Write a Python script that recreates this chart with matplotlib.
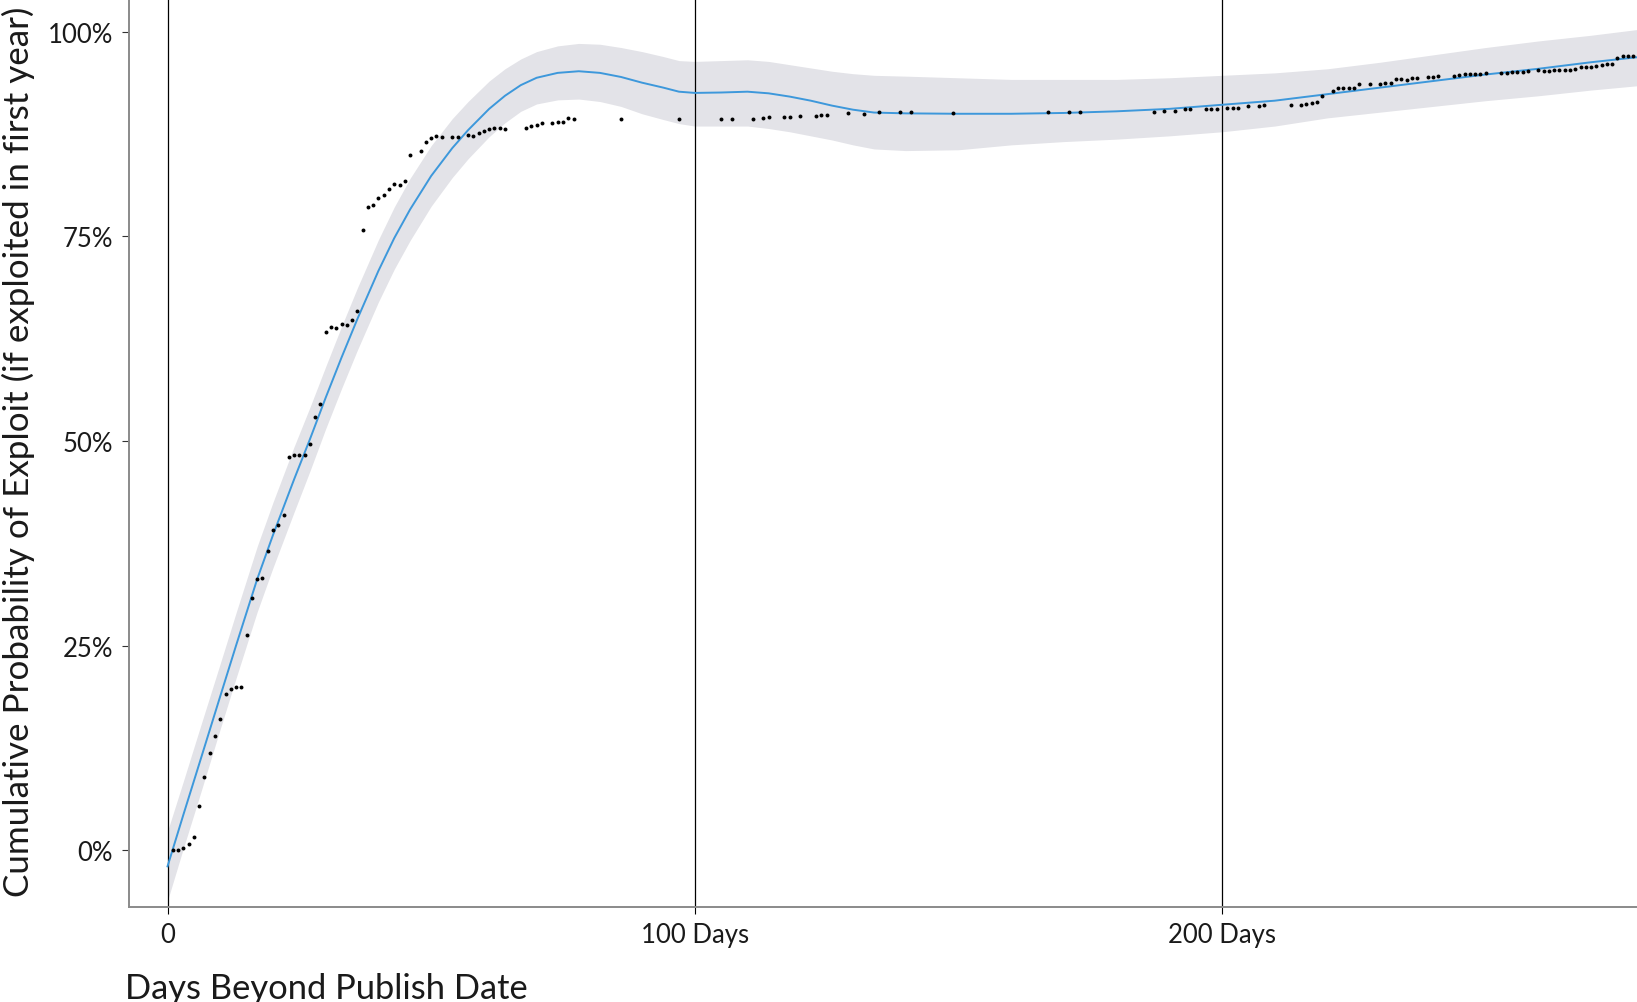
import matplotlib
matplotlib.use("Agg")
import matplotlib.pyplot as plt
import numpy as np

plt.rcParams['font.family'] = ['Lato', 'DejaVu Sans']

# observed cumulative probability (percent) by day
days = [1, 2, 3, 4, 5, 6, 7, 8, 9, 10, 11, 12, 13, 14, 15, 16, 17, 18, 19, 20,
        21, 22, 23, 24, 25, 26, 27, 28, 29, 30, 31, 32, 33, 34, 35, 36, 37, 38, 39, 40,
        41, 42, 43, 44, 45, 46, 48, 49, 50, 51, 52, 54, 55, 57, 58, 59, 60, 61, 62, 63,
        64, 68, 69, 70, 71, 73, 74, 75, 76, 77, 86, 97, 105, 107, 111, 113, 114, 117, 118, 120,
        123, 124, 125, 129, 132, 135, 139, 141, 149, 167, 171, 173, 187, 189, 191, 193, 194, 197, 198, 199,
        201, 202, 203, 205, 207, 208, 213, 215, 216, 217, 218, 219, 221, 222, 223, 224, 225, 226, 228, 230,
        231, 232, 233, 234, 235, 236, 237, 239, 240, 241, 244, 245, 246, 247, 248, 249, 250, 253, 254, 255,
        256, 257, 258, 260, 261, 262, 263, 264, 265, 266, 267, 268, 269, 270, 271, 272, 273, 274, 275, 276,
        277, 278]
prob = [0.0, 0.0, 0.24, 0.77, 1.55, 5.38, 8.92, 11.82, 13.9, 15.98, 19.07, 19.72, 19.93, 19.93, 26.25, 30.8, 33.17, 33.29, 36.5, 39.08,
        39.73, 40.95, 48.04, 48.25, 48.25, 48.25, 49.6, 52.9, 54.5, 63.3, 63.94, 63.85, 64.27, 64.22, 64.76, 65.86, 75.79, 78.64, 78.89, 79.7,
        80.04, 80.84, 81.42, 81.3, 81.78, 85.0, 85.4, 86.5, 87.0, 87.29, 87.16, 87.16, 87.16, 87.37, 87.32, 87.69, 87.94, 88.1, 88.22, 88.22,
        88.18, 88.22, 88.5, 88.66, 88.84, 88.84, 89.04, 89.04, 89.43, 89.41, 89.41, 89.41, 89.41, 89.41, 89.41, 89.49, 89.61, 89.61, 89.65, 89.77,
        89.73, 89.82, 89.82, 90.06, 90.01, 90.26, 90.26, 90.26, 90.06, 90.26, 90.18, 90.18, 90.26, 90.38, 90.38, 90.55, 90.55, 90.59, 90.59, 90.59,
        90.71, 90.71, 90.71, 90.92, 90.92, 91.11, 91.11, 91.11, 91.2, 91.28, 91.48, 92.14, 92.8, 93.1, 93.19, 93.19, 93.19, 93.6, 93.6, 93.6,
        93.8, 93.8, 94.29, 94.25, 94.13, 94.38, 94.38, 94.46, 94.46, 94.66, 94.66, 94.78, 94.83, 94.83, 94.91, 94.91, 95.03, 94.95, 94.95, 95.15,
        95.15, 95.15, 95.23, 95.31, 95.23, 95.23, 95.31, 95.39, 95.39, 95.39, 95.51, 95.72, 95.76, 95.76, 95.88, 95.97, 96.05, 96.13, 96.86, 97.03,
        97.1, 97.1]

# smoothed trend with confidence band (percent)
fit_days = [0, 3, 6, 10, 13, 17, 20, 24, 27, 30, 33, 36, 40, 43, 46, 50, 54, 57, 61, 64,
            67, 70, 74, 78, 82, 86, 90, 94, 97, 100, 105, 110, 114, 118, 122, 126, 130, 134, 140, 150,
            160, 170, 180, 190, 200, 210, 220, 230, 240, 250, 260, 270, 280]
fit_mid = [-2.0, 4.3, 10.5, 18.8, 25.0, 33.1, 38.5, 45.3, 50.2, 55.3, 60.2, 64.9, 70.8, 74.8, 78.3, 82.4, 85.8, 88.0, 90.6, 92.2,
           93.5, 94.4, 95.0, 95.2, 95.0, 94.5, 93.8, 93.2, 92.7, 92.55, 92.6, 92.7, 92.5, 92.1, 91.6, 91.0, 90.5, 90.15, 90.05, 90.0,
           90.0, 90.1, 90.3, 90.6, 91.1, 91.6, 92.4, 93.2, 94.0, 94.8, 95.5, 96.3, 97.0]
fit_low = [-6.2, 0.2, 6.4, 14.8, 21.0, 29.1, 34.5, 41.3, 46.3, 51.5, 56.4, 61.1, 67.0, 71.0, 74.5, 78.7, 82.2, 84.5, 87.2, 88.9,
           90.3, 91.2, 91.7, 91.8, 91.5, 90.9, 90.0, 89.3, 88.8, 88.5, 88.5, 88.5, 88.2, 87.8, 87.3, 86.8, 86.2, 85.7, 85.5, 85.6,
           86.2, 86.6, 86.9, 87.3, 87.8, 88.5, 89.5, 90.2, 90.9, 91.6, 92.2, 92.9, 93.5]
fit_high = [2.3, 8.4, 14.6, 22.8, 29.0, 37.1, 42.5, 49.3, 54.1, 59.1, 64.0, 68.7, 74.6, 78.6, 82.1, 86.1, 89.4, 91.5, 94.0, 95.5,
            96.7, 97.6, 98.3, 98.6, 98.5, 98.1, 97.6, 97.0, 96.5, 96.4, 96.5, 96.6, 96.4, 96.0, 95.6, 95.2, 94.9, 94.7, 94.6, 94.4,
            94.2, 94.2, 94.2, 94.4, 94.7, 95.0, 95.5, 96.3, 97.2, 98.1, 98.9, 99.6, 100.4]

x_ticks = [0, 100, 200]
x_labels = ['0', '100 Days', '200 Days']
y_ticks = [0, 25, 50, 75, 100]
y_labels = ['0%', '25%', '50%', '75%', '100%']

fig = plt.figure(figsize=(16.37, 10.03), dpi=100)
ax = fig.add_axes([0.0785, 0.095, 0.9215, 0.905])

ax.fill_between(fit_days, fit_low, fit_high, color='#e3e3e8', linewidth=0, zorder=1)
ax.plot(fit_days, fit_mid, color='#3d98db', linewidth=1.4, zorder=3)
ax.scatter(days, prob, s=8, color='black', linewidths=0, zorder=4)

ax.set_xlim(-7.4, 278.7)
ax.set_ylim(-6.93, 104.03)

ax.set_xticks(x_ticks)
ax.set_xticklabels(x_labels)
ax.set_yticks(y_ticks)
ax.set_yticklabels(y_labels)

ax.grid(True, axis='x', color='black', linewidth=0.9)
for line in ax.get_xgridlines():
    line.set_zorder(2)

ax.tick_params(axis='x', length=5, width=0.8, color='black', labelsize=18.5, pad=6, labelcolor='#1a1a1a')
ax.tick_params(axis='y', length=5, width=0.8, color='#333333', labelsize=18.5, pad=6, labelcolor='#1a1a1a')

for side in ['top', 'right']:
    ax.spines[side].set_visible(False)
for side in ['left', 'bottom']:
    ax.spines[side].set_color('#8a8a8a')
    ax.spines[side].set_linewidth(1.4)

fig.text(125 / 1637, 1 - 989 / 1003, 'Days Beyond Publish Date', fontsize=24.8,
         ha='left', va='center', color='#1a1a1a')
fig.text(18 / 1637, 1 - 452 / 1003, 'Cumulative Probability of Exploit (if exploited in first year)',
         fontsize=25.2, rotation=90, ha='center', va='center', color='#1a1a1a')

fig.savefig('out.png', dpi=100)
